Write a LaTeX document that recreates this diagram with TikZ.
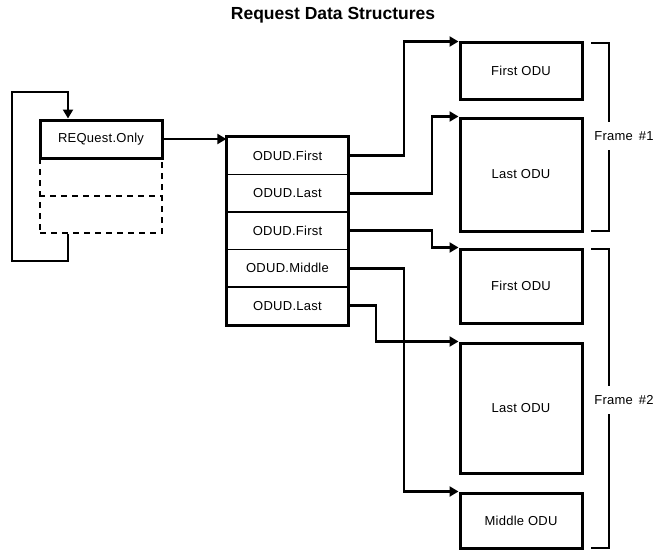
\documentclass[tikz,border=0pt]{standalone}
\usepackage{fontspec}
\setmainfont{Liberation Sans}
\newfontfamily\genevafont[LetterSpace=2]{Liberation Sans}
\usetikzlibrary{arrows.meta,calc}
\begin{document}
\begin{tikzpicture}[x=1pt,y=-1pt,
  lbl/.style={font=\genevafont\fontsize{13}{15}\selectfont},
  box/.style={draw,line width=3pt,inner sep=0pt,lbl},
  row/.style={draw,line width=1.4pt,inner sep=0pt,minimum width=121pt,minimum height=37.5pt,lbl},
  conn/.style={line width=2.8pt,-{Triangle[length=9pt,width=10pt]}},
  brack/.style={line width=1.2pt},
  dashbox/.style={draw,dashed,dash pattern=on 6pt off 5pt,line width=2pt,inner sep=0pt}
]
\useasboundingbox (0,0) rectangle (661,551);
% title
\node[font=\bfseries\fontsize{17.5}{20}\selectfont] (title) at (333,15) {Request Data Structures};

% request structure
\node[dashbox,minimum width=122pt,minimum height=75pt] (slots) at (101,195.5) {};
\draw[dashed,dash pattern=on 6pt off 5pt,line width=2pt] (slots.west) -- (slots.east);
\node[box,fill=white,minimum width=122pt,minimum height=38pt] (req) at (101,139) {REQuest.Only};

% loop
\coordinate (lx) at (68,0);
\draw[conn] (lx |- slots.south) |- (12,261) |- (68,92) -- (lx |- req.north);

% ODUD stack
\node[row] (o1) at (287.5,155.75) {ODUD.First};
\node[row] (o2) at (287.5,193.25) {ODUD.Last};
\node[row] (o3) at (287.5,230.75) {ODUD.First};
\node[row] (o4) at (287.5,268.25) {ODUD.Middle};
\node[row] (o5) at (287.5,305.75) {ODUD.Last};
\draw[line width=3pt] (o1.north west) rectangle (o5.south east);

\draw[conn] (req.east) -- (req.east -| o1.west);

% ODU boxes
\node[box,minimum width=122pt,minimum height=56pt] (f1) at (521,71) {First ODU};
\node[box,minimum width=122pt,minimum height=113pt] (l1) at (521,174.5) {Last ODU};
\node[box,minimum width=122pt,minimum height=74pt] (f2) at (521,286) {First ODU};
\node[box,minimum width=122pt,minimum height=130pt] (l2) at (521,408) {Last ODU};
\node[box,minimum width=122pt,minimum height=55pt] (m2) at (521,520.5) {Middle ODU};

% connectors
\coordinate (c1) at (404,0);
\coordinate (c2) at (432,0);
\coordinate (c3) at (376,0);
\draw[conn] (o1.east) -- (o1.east -| c1) |- (f1.north west);
\draw[conn] (o2.east) -- (o2.east -| c2) |- (l1.north west);
\draw[conn] (o3.east) -- (o3.east -| c2) |- (f2.north west);
\draw[conn] (o4.east) -- (o4.east -| c1) |- (m2.north west);
\draw[conn] (o5.east) -- (o5.east -| c3) |- (l2.north west);

% frame brackets
\draw[brack] (591,43) -- (609,43) -- (609,231) -- (591,231);
\node[lbl,fill=white,inner xsep=1pt,inner ysep=9pt] (fr1) at (624,136) {Frame\hspace{6pt}\#1};
\draw[brack] (591,249) -- (609,249) -- (609,548) -- (591,548);
\node[lbl,fill=white,inner xsep=1pt,inner ysep=9pt] (fr2) at (624,400) {Frame\hspace{6pt}\#2};
\end{tikzpicture}
\end{document}
